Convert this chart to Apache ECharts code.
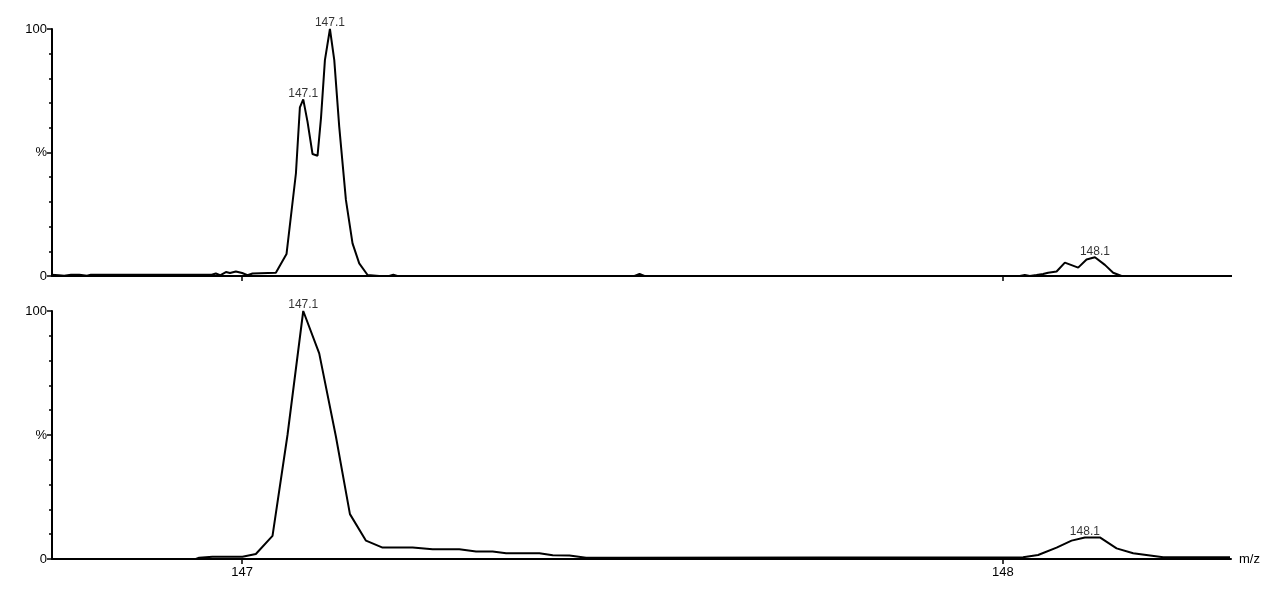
<!DOCTYPE html>
<html>
<head>
<meta charset="utf-8">
<style>
html,body{margin:0;padding:0;background:#fff;}
#chart{width:1280px;height:599px;}
</style>
<script src="https://cdn.jsdelivr.net/npm/echarts@6/dist/echarts.min.js"></script>
</head>
<body>
<div id="chart"></div>
<script>
// ---- data (m/z, relative intensity %) ----
const topMz = [146.749,146.759,146.766,146.775,146.786,146.796,146.801,146.960,146.9654,146.971,146.9786,146.984,146.9917,147.000,147.007,147.0136,147.0443,147.0583,147.0707,147.0759,147.0803,147.0859,147.0925,147.0991,147.1036,147.1088,147.1154,147.1211,147.1276,147.1364,147.1451,147.1539,147.1649,147.1803,147.1934,147.1987,147.2039,147.5158,147.5224,147.5289,148.0224,148.0289,148.0355,148.0443,148.053,148.0596,148.0707,148.0816,148.0991,148.1101,148.1211,148.1342,148.1451,148.1561,148.3013];
const topInt = [0.5,0.3,0.1,0.5,0.5,0.1,0.5,0.5,1.0,0.3,1.6,1.2,1.8,1.2,0.3,1.0,1.3,8.9,41.6,68.3,71.5,62.5,49.4,48.7,63.8,87.4,100,87.4,60.5,30.8,13.2,5.1,0.4,0,0,0.5,0,0,0.8,0,0,0.4,0,0.4,0.8,1.3,1.8,5.4,3.4,6.7,7.6,4.5,1.3,0,0];

const botMz = [146.9391,146.9434,146.9609,147.0004,147.018,147.0399,147.0596,147.0803,147.1013,147.1233,147.1417,147.1628,147.1846,147.2241,147.2504,147.2855,147.3075,147.3293,147.347,147.3908,147.4083,147.4303,147.4522,147.4961,148.0267,148.0464,148.0707,148.0904,148.1079,148.1276,148.1496,148.1714,148.2109,148.2987];
const botInt = [0,0.5,0.9,0.9,2.0,9.3,50,100,82.9,49.3,18.1,7.4,4.6,4.6,3.9,3.9,3.0,3.0,2.3,2.3,1.5,1.4,0.5,0.5,0.7,1.6,4.6,7.4,8.7,8.7,4.3,2.3,0.7,0.7];

// peak annotations
const topPeakMz = [147.0803,147.1154,148.1211];
const topPeakInt = [71.5,100,7.6];
const topPeakText = ['147.1','147.1','148.1'];
const botPeakMz = [147.0803,148.1079];
const botPeakInt = [100,8.7];
const botPeakText = ['147.1','148.1'];

const xTicks = [147,148];
const yLabels = {0:'0',50:'%',100:'100'};

// ---- build ----
const zip = (a,b) => a.map((v,i)=>[v,b[i]]);
const fontFam = '"Liberation Sans", Arial, sans-serif';

function xAxisCfg(gi, showLabels, name){
  return {
    type:'value', gridIndex:gi, min:146.75, max:148.30,
    name: name, nameLocation:'end', nameGap:8,
    nameTextStyle:{color:'#000',fontSize:13,fontFamily:fontFam,verticalAlign:'middle'},
    axisLine:{show:true,onZero:false,lineStyle:{color:'#000',width:2}},
    axisTick:{show:true,customValues:xTicks,length:5,inside:false,lineStyle:{color:'#000',width:1.5}},
    axisLabel:{show:showLabels,customValues:xTicks,color:'#000',fontSize:13,fontFamily:fontFam,margin:7},
    splitLine:{show:false}
  };
}
function yAxisCfg(gi){
  return {
    type:'value', gridIndex:gi, min:0, max:100, interval:50,
    axisLine:{show:true,lineStyle:{color:'#000',width:2}},
    axisTick:{show:true,length:5,lineStyle:{color:'#000',width:1.5}},
    minorTick:{show:true,splitNumber:5,length:3,lineStyle:{color:'#000',width:1.5}},
    axisLabel:{color:'#000',fontSize:13,fontFamily:fontFam,margin:5,formatter:v=>yLabels[v]!==undefined?yLabels[v]:''},
    splitLine:{show:false}, minorSplitLine:{show:false}
  };
}
function lineSeries(xi, data){
  return {type:'line', xAxisIndex:xi, yAxisIndex:xi, data:data, showSymbol:false, symbol:'none',
    lineStyle:{color:'#000',width:2}, animation:false, silent:true};
}
function labelSeries(xi, mz, inten, texts){
  return {type:'scatter', xAxisIndex:xi, yAxisIndex:xi, symbolSize:0, data:zip(mz,inten),
    itemStyle:{color:'#000'},
    label:{show:true,position:'top',distance:0,color:'#000',fontSize:12,fontFamily:fontFam,
      formatter:p=>texts[p.dataIndex]}, animation:false, silent:true};
}

const chart = echarts.init(document.getElementById('chart'), null, {renderer:'canvas'});
chart.setOption({
  backgroundColor:'#fff',
  animation:false,
  grid:[
    {left:52, top:29, width:1179, height:247},
    {left:52, top:311, width:1179, height:248}
  ],
  xAxis:[xAxisCfg(0,false,''), xAxisCfg(1,true,'m/z')],
  yAxis:[yAxisCfg(0), yAxisCfg(1)],
  series:[
    lineSeries(0, zip(topMz,topInt)),
    lineSeries(1, zip(botMz,botInt)),
    labelSeries(0, topPeakMz, topPeakInt, topPeakText),
    labelSeries(1, botPeakMz, botPeakInt, botPeakText)
  ]
});
</script>
</body>
</html>
